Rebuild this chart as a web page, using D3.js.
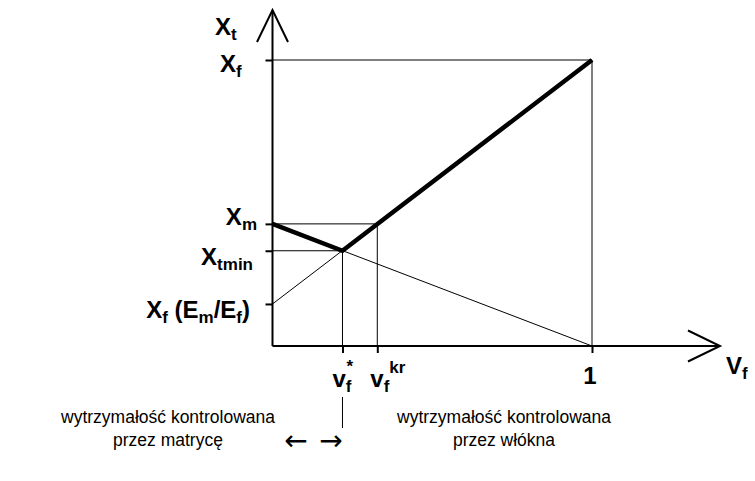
<!DOCTYPE html>
<html>
<head>
<meta charset="utf-8">
<script src="https://cdn.jsdelivr.net/npm/d3@7"></script>
<style>
  body { margin: 0; background: #fff; }
  svg { display: block; }
  text { font-family: "Liberation Sans", Arial, Helvetica, sans-serif; fill: #000; }
  .arrow { font-family: "DejaVu Sans", sans-serif; }
</style>
</head>
<body>
<svg id="chart" width="755" height="481"></svg>
<script>
// Tensile strength of a unidirectional composite X_t versus fibre volume fraction V_f

// strength levels on the vertical axis (X_f normalised to 1)
const strengthKeys   = ["Xf", "Xm", "Xtmin", "XfEmEf"];
const strengthValues = [1.0, 0.427, 0.333, 0.147];

// fibre volume fractions on the horizontal axis
const volumeKeys   = ["vStar", "vKr", "one"];
const volumeValues = [0.219, 0.328, 1.0];

// strength envelope (thick): matrix-controlled, then fibre-controlled
const envelopeV = [0, 0.219, 1.0];
const envelopeX = [0.427, 0.333, 1.0];

// construction lines (thin)
const matrixLineV = [0, 1.0];
const matrixLineX = [0.427, 0];
const fibreLineV  = [0, 1.0];
const fibreLineX  = [0.147, 1.0];

// bottom captions
const captionLeft  = ["wytrzymałość kontrolowana", "przez matrycę"];
const captionRight = ["wytrzymałość kontrolowana", "przez włókna"];

const val = (keys, vals) => Object.fromEntries(keys.map((k, i) => [k, vals[i]]));
const S = val(strengthKeys, strengthValues);
const V = val(volumeKeys, volumeValues);

const svg = d3.select("#chart");
const x = d3.scaleLinear().domain([0, 1]).range([272.5, 592]);
const y = d3.scaleLinear().domain([0, 1]).range([346, 60]);

const axisTop = 10, axisRight = 720;
const line = d3.line().x(d => x(d[0])).y(d => y(d[1]));
const zip = (a, b) => a.map((v, i) => [v, b[i]]);

// guide lines from each level to its point on the curves
const guides = svg.append("g").attr("stroke", "#000").attr("stroke-width", 1).attr("fill", "none");
guides.append("path").attr("d", line([[0, S.Xf], [V.one, S.Xf], [V.one, 0]]));
guides.append("path").attr("d", line([[0, S.Xm], [V.vKr, S.Xm], [V.vKr, 0]]));
guides.append("path").attr("d", line([[0, S.Xtmin], [V.vStar, S.Xtmin], [V.vStar, 0]]));
guides.append("path").attr("d", line(zip(matrixLineV, matrixLineX)));
guides.append("path").attr("d", line(zip(fibreLineV, fibreLineX)));

// thick envelope
svg.append("path")
  .attr("d", line(zip(envelopeV, envelopeX)))
  .attr("fill", "none").attr("stroke", "#000")
  .attr("stroke-width", 4.5).attr("stroke-linejoin", "miter");

// tick marks through d3 axes
const yAxis = svg.append("g").attr("transform", `translate(${x(0)},0)`)
  .call(d3.axisLeft(y).tickValues(strengthValues).tickSize(7).tickFormat(""));
const xAxis = svg.append("g").attr("transform", `translate(0,${y(0)})`)
  .call(d3.axisBottom(x).tickValues(volumeValues).tickSize(7).tickFormat(""));
[yAxis, xAxis].forEach(g => {
  g.select(".domain").remove();
  g.selectAll(".tick line").attr("stroke", "#000").attr("stroke-width", 2);
});

// axis lines with open arrowheads
const axes = svg.append("g").attr("stroke", "#000").attr("stroke-width", 2).attr("fill", "none");
axes.append("path").attr("d", `M${x(0)},${y(0)}V${axisTop}`);
axes.append("path").attr("d", `M${x(0)},${y(0)}H${axisRight}`);
axes.append("path").attr("d", `M${x(0) - 15.5},${axisTop + 32}L${x(0)},${axisTop}L${x(0) + 15.5},${axisTop + 32}`);
axes.append("path").attr("d", `M${axisRight - 32},${y(0) - 15.5}L${axisRight},${y(0)}L${axisRight - 32},${y(0) + 15.5}`);

// rich label: runs of [text, role] where role is "" (main) or "sub"
function label(px, py, runs, anchor) {
  const t = svg.append("text").attr("x", px).attr("y", py)
    .attr("font-weight", "bold").attr("text-anchor", anchor || "start");
  let shift = 0;
  runs.forEach(([txt, role]) => {
    const target = role === "sub" ? 5 : 0;
    t.append("tspan").text(txt)
      .attr("font-size", role === "sub" ? 17 : 24)
      .attr("dy", target - shift);
    shift = target;
  });
  return t;
}

// vertical axis labels
label(215, 35, [["X", ""], ["t", "sub"]]);
label(220, 72, [["X", ""], ["f", "sub"]]);
label(257, y(S.Xm) + 1, [["X", ""], ["m", "sub"]], "end");
label(253, y(S.Xtmin) + 14, [["X", ""], ["tmin", "sub"]], "end");
label(250, y(S.XfEmEf) + 14, [["X", ""], ["f", "sub"], [" (E", ""], ["m", "sub"], ["/E", ""], ["f", "sub"], [")", ""]], "end");

// horizontal axis labels
const vBase = 387;
label(x(V.vStar) - 10, vBase, [["v", ""], ["f", "sub"]]);
svg.append("text").attr("x", x(V.vStar) + 4).attr("y", vBase - 15)
  .attr("font-weight", "bold").attr("font-size", 17).text("*");
label(x(V.vKr) - 7, vBase, [["v", ""], ["f", "sub"]]);
svg.append("text").attr("x", x(V.vKr) + 12).attr("y", vBase - 14)
  .attr("font-weight", "bold").attr("font-size", 17).text("kr");
label(x(V.one) - 2, vBase - 3, [["1", ""]], "middle");
label(726, 374, [["V", ""], ["f", "sub"]]);

// captions below the chart
const capBase = 423, capStep = 23;
svg.append("line")
  .attr("x1", x(V.vStar)).attr("x2", x(V.vStar))
  .attr("y1", 397).attr("y2", 428)
  .attr("stroke", "#000").attr("stroke-width", 1);

const leftBlock = svg.append("g");
leftBlock.selectAll("text").data(captionLeft).join("text")
  .attr("x", 168).attr("y", (d, i) => capBase + i * capStep)
  .attr("text-anchor", "middle").attr("font-size", 17.5).text(d => d);
const rightBlock = svg.append("g");
rightBlock.selectAll("text").data(captionRight).join("text")
  .attr("x", 504).attr("y", (d, i) => capBase + i * capStep)
  .attr("text-anchor", "middle").attr("font-size", 17.5).text(d => d);

svg.append("text").attr("class", "arrow").attr("x", 296).attr("y", capBase + capStep + 4)
  .attr("text-anchor", "middle").attr("font-size", 28).text("←");
svg.append("text").attr("class", "arrow").attr("x", 331).attr("y", capBase + capStep + 4)
  .attr("text-anchor", "middle").attr("font-size", 28).text("→");
</script>
</body>
</html>
